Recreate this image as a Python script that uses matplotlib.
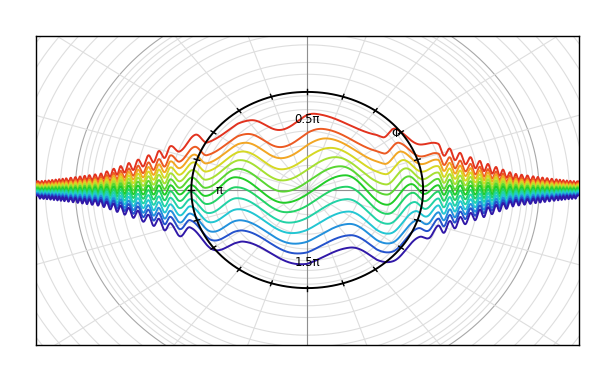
import numpy as np
import matplotlib.pyplot as plt

# one unit = radius of the black circle
x_lim = (-2.34, 2.345)
y_lim = (-1.58, 1.57)

# light grid circles, the darker one at r = 2
grid_r = [0.25, 0.45, 0.6, 0.72, 0.82, 0.9, 0.96,
          1.18, 1.30, 1.48, 1.60, 1.70, 1.78, 1.85, 1.90, 1.95,
          2.13, 2.26, 2.39, 2.52, 2.65, 2.78]
dark_r = 2.0
spoke_deg = [0, 18, 36, 54, 72, 90, 108, 126, 144, 162, 180,
             198, 216, 234, 252, 270, 288, 306, 324, 342]
tick_deg = spoke_deg

label_text = ["0.5π", "π", "1.5π", "Φ"]
label_x = [0.0, -0.76, 0.0, 0.77]
label_y = [0.72, -0.01, -0.74, 0.58]

# vertical offset of each line at the centre, top (red) to bottom (blue)
line_off = [0.72, 0.55, 0.44, 0.33, 0.22, 0.11, 0.0,
            -0.11, -0.23, -0.35, -0.47, -0.58, -0.70]
line_col = ["#e2321e", "#ec5a22", "#f2a624", "#d6d824", "#a6e032",
            "#5ad632", "#22cc28", "#22d266", "#22d2a6", "#22c6d2",
            "#2290dc", "#2452cc", "#3018a8"]

# how the spread of the lines shrinks away from the centre
env_x = [-2.34, -2.24, -2.0, -1.78, -1.47, -1.14, -1.0, -0.6, 0.0,
         0.6, 1.0, 1.14, 1.47, 1.78, 2.0, 2.24, 2.34]
env_v = [0.10, 0.11, 0.15, 0.19, 0.36, 0.58, 0.68, 0.9, 1.0,
         0.9, 0.68, 0.58, 0.36, 0.19, 0.15, 0.11, 0.10]

# extremes of the slow wiggle inside the circle: top, middle and bottom line
mid_x_top = [-0.965, -0.86, -0.49, -0.23, 0.07, 0.65, 0.76, 0.95]
mid_v_top = [0.06, -0.06, 0.05, -0.08, 0.065, -0.09, 0.04, -0.04]
mid_x_cen = [-1.0, -0.88, -0.62, -0.2, 0.33, 0.69, 0.9, 1.01]
mid_v_cen = [0.05, -0.06, 0.13, -0.13, 0.15, -0.15, 0.06, -0.04]
mid_x_bot = [-1.01, -0.81, -0.55, -0.09, 0.37, 0.74, 0.97, 1.05]
mid_v_bot = [0.09, -0.06, 0.11, -0.065, 0.07, -0.15, 0.01, -0.04]

# peaks of the fast wiggle in the two tails
left_peaks = [-2.32, -2.29, -2.26, -2.23, -2.20, -2.17, -2.14, -2.11, -2.08,
              -2.04, -2.00, -1.96, -1.92, -1.88, -1.83, -1.78, -1.73, -1.67,
              -1.61, -1.54, -1.46, -1.37, -1.28, -1.18]
right_peaks = [1.13, 1.23, 1.32, 1.41, 1.49, 1.56, 1.63, 1.69, 1.75, 1.80,
               1.85, 1.90, 1.95, 1.99, 2.03, 2.07, 2.11, 2.15, 2.18, 2.21,
               2.24, 2.27, 2.30, 2.33]
amp_x = [1.0, 1.5, 1.8, 2.1, 2.35]
amp_v = [0.05, 0.045, 0.03, 0.02, 0.015]


def tail_points(peaks):
    px, pv = [], []
    for k, p in enumerate(peaks):
        a = np.interp(abs(p), amp_x, amp_v)
        px.append(p)
        pv.append(a)
        if k + 1 < len(peaks):
            px.append((p + peaks[k + 1]) / 2)
            pv.append(-a)
    return px, pv


def smooth_through(xs, px, pv):
    out = np.full_like(xs, pv[0])
    out[xs > px[-1]] = pv[-1]
    for k in range(len(px) - 1):
        m = (xs >= px[k]) & (xs <= px[k + 1])
        t = (xs[m] - px[k]) / (px[k + 1] - px[k])
        out[m] = pv[k] + (pv[k + 1] - pv[k]) * (1 - np.cos(np.pi * t)) / 2
    return out


lx, lv = tail_points(left_peaks)
rx, rv = tail_points(right_peaks)
# trough joining the left tail to the middle part
lx.append(-1.1)
lv.append(-0.045)

fig = plt.figure(figsize=(6.15, 3.81), dpi=100)
ax = fig.add_axes([0.0585, 0.0945, 0.883, 0.811])

th = np.linspace(0, 2 * np.pi, 721)
for r in grid_r:
    ax.plot(r * np.cos(th), r * np.sin(th), color="#dedede", lw=0.8, zorder=1)
ax.plot(dark_r * np.cos(th), dark_r * np.sin(th), color="#a8a8a8", lw=0.8, zorder=1)
for a in np.radians(spoke_deg):
    ax.plot([0, 3 * np.cos(a)], [0, 3 * np.sin(a)], color="#dedede", lw=0.8, zorder=1)
ax.axhline(0, color="#909090", lw=0.8, zorder=1.5)
ax.axvline(0, color="#909090", lw=0.8, zorder=1.5)

xs = np.linspace(x_lim[0], x_lim[1], 5000)
env = np.interp(xs, env_x, env_v)
for off, c in zip(line_off, line_col):
    if off >= 0:
        f = off / line_off[0]
        mx = [a * f + b * (1 - f) for a, b in zip(mid_x_top, mid_x_cen)]
        mv = [a * f + b * (1 - f) for a, b in zip(mid_v_top, mid_v_cen)]
    else:
        f = off / line_off[-1]
        mx = [a * f + b * (1 - f) for a, b in zip(mid_x_bot, mid_x_cen)]
        mv = [a * f + b * (1 - f) for a, b in zip(mid_v_bot, mid_v_cen)]
    wig = smooth_through(xs, lx + mx + rx, lv + mv + rv)
    ax.plot(xs, off * env + wig, color=c, lw=1.4, zorder=3)

ax.plot(np.cos(th), np.sin(th), color="black", lw=1.4, zorder=4)
for a in np.radians(tick_deg):
    ax.plot([0.975 * np.cos(a), 1.025 * np.cos(a)], [0.975 * np.sin(a), 1.025 * np.sin(a)],
            color="black", lw=1.0, zorder=4)

for t, x, y in zip(label_text, label_x, label_y):
    ax.text(x, y, t, fontsize=8.5, ha="center", va="center", zorder=5)

ax.set_xlim(*x_lim)
ax.set_ylim(*y_lim)
ax.set_xticks([])
ax.set_yticks([])
for s in ax.spines.values():
    s.set_linewidth(1.0)

fig.savefig("out.png", dpi=100)
